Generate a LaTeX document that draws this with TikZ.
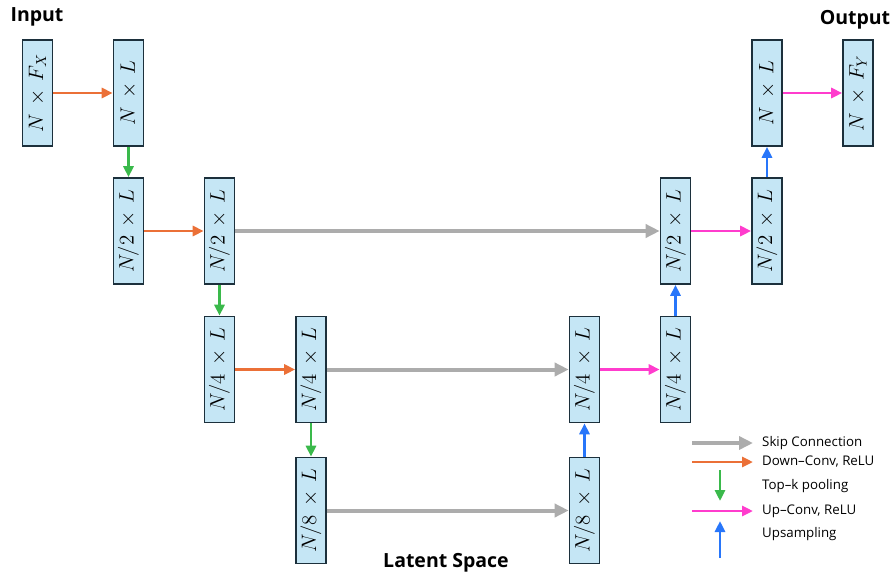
\documentclass[tikz,border=0pt]{standalone}
\usepackage[no-math]{fontspec}
\setmainfont{Open Sans}
\usepackage{graphicx}
\usetikzlibrary{arrows.meta}

\definecolor{boxfill}{RGB}{197,230,245}
\definecolor{boxline}{RGB}{28,48,60}
\definecolor{skipgray}{RGB}{172,172,172}
\definecolor{downorange}{RGB}{235,112,55}
\definecolor{poolgreen}{RGB}{58,185,75}
\definecolor{uppink}{RGB}{255,60,205}
\definecolor{upblue}{RGB}{40,118,250}

% rotated, enlarged math label for a layer box
\newcommand{\vlabel}[1]{\rotatebox{90}{\scalebox{1.45}{$#1$}}}
\newcommand{\bytimes}{\mathbin{\,\times\,}}

\begin{document}
\begin{tikzpicture}[x=1pt, y=-1pt,
  layer/.style={draw=boxline, line width=1.6pt, fill=boxfill,
    minimum width=30pt, minimum height=106pt, inner sep=0pt,
    font=\fontsize{14.4}{14.4}\selectfont},
  conn/.style={line width=2.8pt, -{Triangle[length=11pt,width=10pt]}},
  skip/.style={draw=skipgray, line width=4pt, -{Triangle[length=14pt,width=13pt]}},
  down/.style={conn, draw=downorange},
  pool/.style={conn, draw=poolgreen},
  upconv/.style={conn, draw=uppink},
  upsample/.style={conn, draw=upblue},
  title/.style={font=\bfseries\fontsize{19.5}{19.5}\selectfont},
  legendtext/.style={anchor=west, inner sep=0pt, font=\fontsize{13.3}{13.3}\selectfont}
]
\useasboundingbox (0,0) rectangle (895,579);

% encoder
\node[layer] (in)  at (37.5,93)   {\vlabel{N\bytimes F_X}};
\node[layer] (e1)  at (128.5,93)  {\vlabel{N\bytimes L}};
\node[layer] (e2a) at (128.5,231) {\vlabel{N/2\bytimes L}};
\node[layer] (e2b) at (219.5,231) {\vlabel{N/2\bytimes L}};
\node[layer] (e3a) at (219.5,369.5) {\vlabel{N/4\bytimes L}};
\node[layer] (e3b) at (311,369.5) {\vlabel{N/4\bytimes L}};
\node[layer] (e4)  at (311,510.5) {\vlabel{N/8\bytimes L}};

% decoder
\node[layer] (d4)  at (584.5,510.5) {\vlabel{N/8\bytimes L}};
\node[layer] (d3a) at (584.5,369.5) {\vlabel{N/4\bytimes L}};
\node[layer] (d3b) at (675.5,369.5) {\vlabel{N/4\bytimes L}};
\node[layer] (d2a) at (675.5,231) {\vlabel{N/2\bytimes L}};
\node[layer] (d2b) at (767,231)   {\vlabel{N/2\bytimes L}};
\node[layer] (d1)  at (767,93)    {\vlabel{N\bytimes L}};
\node[layer] (out) at (858,93)    {\vlabel{N\bytimes F_Y}};

% titles
\node[title] (tin)  at (37,17)  {Input};
\node[title] (tout) at (855,20) {Output};
\node[title] (tlat) at (446,563) {Latent Space};

% skip connections
\draw[skip] (e2b.east) -- (d2a.west);
\draw[skip] (e3b.east) -- (d3a.west);
\draw[skip] (e4.east) -- (d4.west);

% down-convolutions
\draw[down] (in.east) -- (e1.west);
\draw[down] (e2a.east) -- (e2b.west);
\draw[down] (e3a.east) -- (e3b.west);

% pooling
\draw[pool] (e1.south) -- (e2a.north);
\draw[pool] (e2b.south) -- (e3a.north);
\draw[pool] (e3b.south) -- (e4.north);

% up-convolutions
\draw[upconv] (d3a.east) -- (d3b.west);
\draw[upconv] (d2a.east) -- (d2b.west);
\draw[upconv] (d1.east) -- (out.west);

% upsampling
\draw[upsample] (d4.north) -- (d3a.south);
\draw[upsample] (d3b.north) -- (d2a.south);
\draw[upsample] (d2b.north) -- (d1.south);

% legend
\coordinate (ls0) at (692,443);  \coordinate (ls1) at (753,443);
\coordinate (ld0) at (692,462);  \coordinate (ld1) at (753,462);
\coordinate (lp0) at (720,470);  \coordinate (lp1) at (720,501);
\coordinate (lu0) at (692,511);  \coordinate (lu1) at (753,511);
\coordinate (lb0) at (720,558);  \coordinate (lb1) at (720,521);
\draw[skip] (ls0) -- (ls1);
\draw[down] (ld0) -- (ld1);
\draw[pool] (lp0) -- (lp1);
\draw[upconv] (lu0) -- (lu1);
\draw[upsample] (lb0) -- (lb1);
\node[legendtext] (lt1) at (762,443) {Skip Connection};
\node[legendtext] (lt2) at (762,462) {Down–Conv, ReLU};
\node[legendtext] (lt3) at (762,486) {Top–k pooling};
\node[legendtext] (lt4) at (762,511) {Up–Conv, ReLU};
\node[legendtext] (lt5) at (762,534) {Upsampling};
\end{tikzpicture}
\end{document}
